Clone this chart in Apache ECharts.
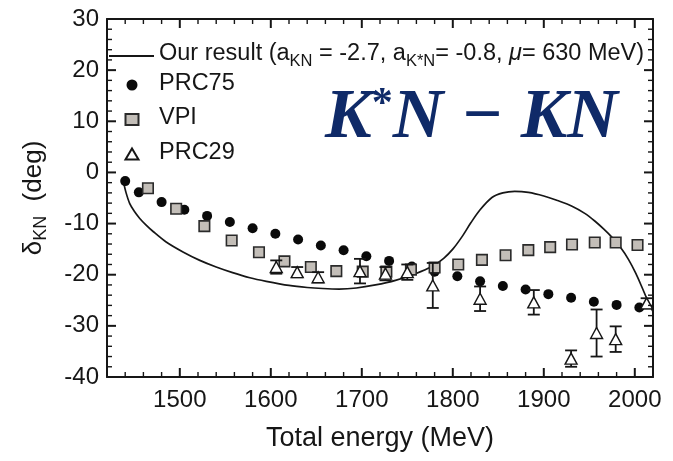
<!DOCTYPE html>
<html><head><meta charset="utf-8">
<script src="https://cdn.jsdelivr.net/npm/echarts@6/dist/echarts.min.js"></script>
<style>html,body{margin:0;padding:0;background:#fff}#c{width:673px;height:461px}</style>
</head><body><div id="c"></div>
<script>
// ---- data ----
const seriesNames = ['Our result', 'PRC75', 'VPI', 'PRC29'];
const xMin = 1420, xMax = 2020, yMin = -40, yMax = 30;
const xTicks = [1500, 1600, 1700, 1800, 1900, 2000];
const yTicks = [-40, -30, -20, -10, 0, 10, 20, 30];

const curveE = [1438,1441,1445,1450,1456,1463,1471,1485,1504,1522,1540,1558,1577,1595,1620,1640,1657,1675,1694,1715,1737,1759,1778,1790,1800,1810,1820,1830,1843,1855,1868,1883,1900,1915,1931,1945,1956,1966,1975,1984,1993,2001,2008,2014,2020];
const curveV = [-1.8,-4.0,-6.1,-7.6,-9.0,-10.3,-11.6,-13.6,-15.6,-17.2,-18.5,-19.6,-20.6,-21.3,-22.1,-22.5,-22.7,-22.8,-22.6,-22.0,-21.1,-19.8,-18.3,-16.8,-15.0,-12.6,-9.8,-7.3,-4.9,-4.0,-3.7,-3.9,-4.6,-5.5,-6.6,-8.0,-9.5,-11.1,-12.7,-14.6,-17.0,-19.7,-22.5,-25.0,-27.2];

const prc75E = [1440,1455,1480,1505,1530,1555,1580,1605,1630,1655,1680,1705,1730,1755,1780,1805,1830,1855,1880,1905,1930,1955,1980,2005];
const prc75V = [-1.7,-3.9,-5.8,-7.3,-8.5,-9.7,-10.9,-12.0,-13.1,-14.3,-15.2,-16.4,-17.3,-18.4,-19.4,-20.3,-21.3,-22.2,-22.9,-23.8,-24.5,-25.3,-25.9,-26.4];

const vpiE = [1465,1496,1527,1557,1587,1615,1644,1672,1701,1727,1754,1780,1806,1832,1858,1883,1907,1931,1956,1979,2003];
const vpiV = [-3.1,-7.1,-10.5,-13.3,-15.6,-17.4,-18.5,-19.3,-19.4,-19.4,-19.0,-18.6,-18.0,-17.1,-16.2,-15.2,-14.6,-14.1,-13.7,-13.7,-14.2];

const prc29E = [1606,1629,1652,1698,1726,1750,1778,1830,1889,1930,1958,1979,2013];
const prc29V = [-18.5,-19.5,-20.5,-19.3,-19.8,-19.5,-22.1,-24.7,-25.4,-36.4,-31.4,-32.6,-25.6];
const prc29Err = [1.3,1.0,1.0,2.4,1.3,1.5,4.4,2.4,2.4,1.6,4.6,2.5,1.0];

const xTitle = 'Total energy (MeV)';
const resultLabel = '{t|Our result (a}{s|KN}{t| = -2.7, a}{s|K*N}{t|= -0.8, }{i|\u03bc}{t|= 630 MeV)}';

// ---- tick lists (axis decoration) ----
const xTickItems = [], yTickItems = [];
for (let v = xMin; v <= xMax; v += 20) xTickItems.push([v, yMin, v % 100 === 0 ? 1 : 0]);
for (let v = yMin; v <= yMax; v += 2) yTickItems.push([xMin, v, v % 10 === 0 ? 1 : 0]);

// ---- chart ----
const F = '"Liberation Sans", Arial, sans-serif';
const ink = '#161616';
const pairs = (a, b) => a.map((x, i) => [x, b[i]]);
const plain = v => String(v);
const chart = echarts.init(document.getElementById('c'), null, {renderer: 'canvas'});

const frameLine = {show: true, onZero: false, lineStyle: {color: ink, width: 2}};
const xBase = {type: 'value', min: xMin, max: xMax, gridIndex: 0, splitLine: {show: false}, axisTick: {show: false}, axisLine: frameLine};
const yBase = {type: 'value', min: yMin, max: yMax, interval: 10, gridIndex: 0, splitLine: {show: false}, axisTick: {show: false}, axisLine: frameLine};

const LF = 23.5;
const legendRich = {
  t: {fontSize: LF, fontFamily: F, color: ink, verticalAlign: 'top', lineHeight: 27},
  p: {fontSize: LF, fontFamily: F, color: ink, verticalAlign: 'top', lineHeight: 27, padding: [0, 0, 0, 15.5]},
  s: {fontSize: 16.5, fontFamily: F, color: ink, verticalAlign: 'top', padding: [11, 0, 0, 0]},
  i: {fontSize: LF, fontFamily: F, color: ink, fontStyle: 'italic', verticalAlign: 'top', lineHeight: 27}
};

function tickRenderer(isX) {
  return function (params, api) {
    const major = api.value(2) === 1;
    const len = major ? 9 : 5;
    const st = {stroke: ink, lineWidth: major ? 2 : 1.4};
    if (isX) {
      const v = api.value(0);
      const b = api.coord([v, yMin]), t = api.coord([v, yMax]);
      return {type: 'group', children: [
        {type: 'line', shape: {x1: b[0], y1: b[1], x2: b[0], y2: b[1] - len}, style: st},
        {type: 'line', shape: {x1: t[0], y1: t[1], x2: t[0], y2: t[1] + len}, style: st}
      ]};
    }
    const v = api.value(1);
    const l = api.coord([xMin, v]), r = api.coord([xMax, v]);
    return {type: 'group', children: [
      {type: 'line', shape: {x1: l[0], y1: l[1], x2: l[0] + len, y2: l[1]}, style: st},
      {type: 'line', shape: {x1: r[0], y1: r[1], x2: r[0] - len, y2: r[1]}, style: st}
    ]};
  };
}

const option = {
  animation: false,
  backgroundColor: '#fff',
  grid: {left: 107, right: 20, top: 19, bottom: 84},
  xAxis: [
    Object.assign({}, xBase, {position: 'bottom',
      axisLabel: {show: true, customValues: xTicks, formatter: plain, fontSize: 24, fontFamily: F, color: ink, margin: 11},
      name: xTitle, nameLocation: 'middle', nameGap: 48,
      nameTextStyle: {fontSize: 27, fontFamily: F, color: ink}}),
    Object.assign({}, xBase, {position: 'top', axisLabel: {show: false}})
  ],
  yAxis: [
    Object.assign({}, yBase, {position: 'left',
      axisLabel: {show: true, formatter: plain, fontSize: 24, fontFamily: F, color: ink, margin: 8},
      name: '{d|\u03b4}{s|KN}{d|  (deg)}', nameLocation: 'middle', nameGap: 57,
      nameTextStyle: {rich: {
        d: {fontSize: 26, fontFamily: F, color: ink, verticalAlign: 'top', lineHeight: 28},
        s: {fontSize: 18, fontFamily: F, color: ink, verticalAlign: 'top', padding: [11, 0, 0, 0]}
      }}}),
    Object.assign({}, yBase, {position: 'right', axisLabel: {show: false}})
  ],
  legend: [{
    orient: 'vertical', left: 103, top: 37, itemWidth: 45, itemHeight: 11,
    data: [seriesNames[0]],
    itemStyle: {opacity: 0},
    formatter: function () { return resultLabel; },
    textStyle: {fontFamily: F, fontSize: LF, color: ink, rich: legendRich}
  }, {
    orient: 'vertical', left: 119.5, top: 66.5, itemWidth: 13, itemHeight: 11, itemGap: 10.5,
    data: seriesNames.slice(1),
    formatter: function (name) { return '{p|' + name + '}'; },
    textStyle: {fontFamily: F, fontSize: LF, color: ink, rich: legendRich}
  }],
  graphic: [{
    type: 'text', left: 325, top: 84, z: 10,
    style: {
      text: '{k|K}{a|*}{k|N \u2212 KN}',
      rich: {
        k: {fontSize: 70, fontFamily: '"Liberation Serif", serif', fontWeight: 'bold', fontStyle: 'italic', fill: '#0f2a68', verticalAlign: 'top', lineHeight: 70},
        a: {fontSize: 42, fontFamily: '"Liberation Serif", serif', fontWeight: 'bold', fill: '#0f2a68', verticalAlign: 'top', lineHeight: 42}
      }
    }
  }],
  series: [
    {name: 'xticks', type: 'custom', data: xTickItems, renderItem: tickRenderer(true), z: 10, silent: true},
    {name: 'yticks', type: 'custom', data: yTickItems, renderItem: tickRenderer(false), z: 10, silent: true},
    {name: seriesNames[0], type: 'line', data: pairs(curveE, curveV), smooth: 0.3,
      symbol: 'none', lineStyle: {color: ink, width: 1.7}, itemStyle: {color: ink}, z: 2},
    {name: seriesNames[1], type: 'scatter', data: pairs(prc75E, prc75V), symbol: 'circle', symbolSize: 10,
      itemStyle: {color: '#0a0a0a', opacity: 1}, z: 3},
    {name: seriesNames[2], type: 'scatter', data: pairs(vpiE, vpiV), symbol: 'rect', symbolSize: 10.5,
      itemStyle: {color: '#c3beb8', borderColor: '#2a2a2a', borderWidth: 1.6, opacity: 1}, z: 4},
    {name: 'PRC29 err', type: 'custom', z: 5,
      data: prc29E.map((e, i) => [e, prc29V[i], prc29Err[i]]),
      renderItem: function (params, api) {
        const x = api.value(0), v = api.value(1), er = api.value(2);
        const top = api.coord([x, v + er]);
        const bot = api.coord([x, v - er]);
        const st = {stroke: ink, lineWidth: 1.8};
        return {type: 'group', children: [
          {type: 'line', shape: {x1: top[0], y1: top[1], x2: bot[0], y2: bot[1]}, style: st},
          {type: 'line', shape: {x1: top[0] - 6, y1: top[1], x2: top[0] + 6, y2: top[1]}, style: st},
          {type: 'line', shape: {x1: bot[0] - 6, y1: bot[1], x2: bot[0] + 6, y2: bot[1]}, style: st}
        ]};
      }},
    {name: seriesNames[3], type: 'scatter', data: pairs(prc29E, prc29V), symbol: 'triangle', symbolSize: [12, 11],
      itemStyle: {color: '#ffffff', borderColor: ink, borderWidth: 1.4, opacity: 1}, z: 6}
  ]
};
chart.setOption(option);
</script>
</body></html>
